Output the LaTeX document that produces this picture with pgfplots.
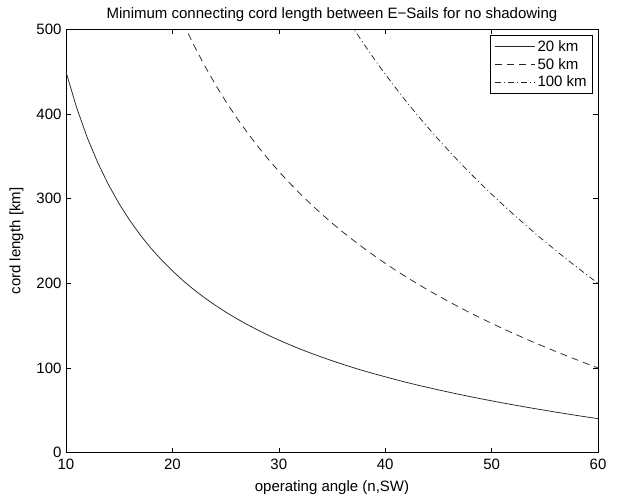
\documentclass[border=0pt]{standalone}
\usepackage{pgfplots}
\pgfplotsset{compat=1.18}
\usepackage{fontspec}
\setmainfont{Liberation Sans}
\begin{document}
\begin{tikzpicture}
\begin{axis}[
  name=ax,
  scale only axis,
  width=532pt, height=423pt,
  xmin=10, xmax=60, ymin=0, ymax=500,
  xtick={10,20,...,60}, ytick={0,100,...,500},
  tick align=inside,
  major tick length=5pt,
  tick style={line width=0.5pt,black},
  axis line style={line width=0.6pt},
  /pgf/number format/assume math mode=true,
  ticklabel style={font=\fontsize{15}{17}\selectfont},
  xticklabel style={yshift=-3pt},
  yticklabel style={xshift=-1pt},
  title={Minimum connecting cord length between E\textminus Sails for no shadowing},
  title style={font=\fontsize{15}{17}\selectfont, yshift=-2pt},
  xlabel={operating angle (n,SW)},
  ylabel={cord length [km]},
  label style={font=\fontsize{15}{17}\selectfont},
  xlabel style={yshift=-4pt},
  ylabel style={yshift=6pt},
  legend style={at={(1,1)}, anchor=north east, xshift=-5pt, yshift=-5.5pt,
    font=\fontsize{15}{17}\selectfont, draw=black, line width=0.6pt,
    inner xsep=4pt, inner ysep=3pt, row sep=1.5pt},
  legend cell align=left,
  legend image code/.code={\draw[#1] (0pt,0pt) -- (40pt,0pt);},
]
\addplot[black!85, line width=0.75pt] coordinates {
(10,450.0)(11,407.6)(12,372.2)(13,342.1)(14,316.3)(15,293.9)(16,274.2)(17,256.8)(18,241.2)(19,227.3)(20,214.7)
(21,203.2)(22,192.7)(23,183.1)(24,174.3)(25,166.1)(26,158.5)(27,151.5)(28,144.9)(29,138.7)(30,132.9)
(31,127.5)(32,122.3)(33,117.5)(34,112.9)(35,108.5)(36,104.3)(37,100.3)(38,96.5)(39,92.9)(40,89.5)
(41,86.1)(42,82.9)(43,79.8)(44,76.9)(45,74.0)(46,71.3)(47,68.6)(48,66.0)(49,63.5)(50,61.1)
(51,58.7)(52,56.4)(53,54.2)(54,52.0)(55,49.9)(56,47.8)(57,45.8)(58,43.8)(59,41.9)(60,40.0)
};
\addlegendentry{20 km}
\addplot[black!85, line width=0.75pt, dash pattern=on 7pt off 5pt] coordinates {
(21,508.0)(22,481.9)(23,457.9)(24,435.8)(25,415.4)(26,396.4)(27,378.8)(28,362.3)(29,346.8)(30,332.4)
(31,318.7)(32,305.9)(33,293.7)(34,282.2)(35,271.2)(36,260.8)(37,250.9)(38,241.4)(39,232.3)(40,223.7)
(41,215.3)(42,207.3)(43,199.6)(44,192.2)(45,185.1)(46,178.2)(47,171.5)(48,165.0)(49,158.8)(50,152.7)
(51,146.8)(52,141.1)(53,135.5)(54,130.0)(55,124.8)(56,119.6)(57,114.5)(58,109.6)(59,104.8)(60,100.0)
};
\addlegendentry{50 km}
\addplot[black!85, line width=0.75pt, dash pattern=on 6pt off 3pt on 1pt off 3pt] coordinates {
(36,520.6)(37,501.7)(38,482.7)(39,464.6)(40,447.3)(41,430.6)(42,414.6)(43,399.2)(44,384.4)(45,370.1)
(46,356.3)(47,342.9)(48,330.0)(49,317.5)(50,305.4)(51,293.6)(52,282.1)(53,271.0)(54,260.0)(55,249.5)
(56,239.1)(57,229.0)(58,219.2)(59,209.5)(60,200.0)
};
\addlegendentry{100 km}
\end{axis}
\pgfresetboundingbox
\path[use as bounding box] ([shift={(-66pt,-45.7pt)}]ax.south west) rectangle ([shift={(20pt,29.5pt)}]ax.north east);
\end{tikzpicture}
\end{document}
